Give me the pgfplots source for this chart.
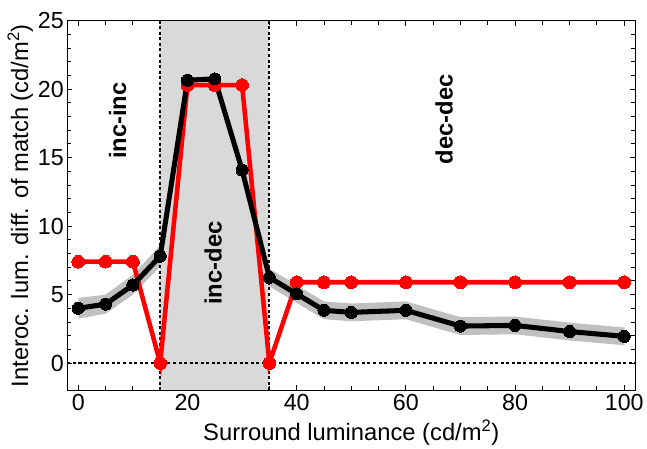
\documentclass[border=0pt]{standalone}
\usepackage{pgfplots}
\pgfplotsset{compat=1.18}
\usepackage{pgfplotstable}
\usepgfplotslibrary{fillbetween}
\usepackage{fontspec}
\setmainfont{Liberation Sans}

\definecolor{regiongray}{RGB}{217,217,217}
\definecolor{bandgray}{RGB}{192,192,192}
\definecolor{redline}{RGB}{255,0,0}

% surround luminance, interocular luminance difference
\pgfplotstableread{
x y
0 7.4
5 7.4
10 7.4
15 0
20 20.3
25 20.3
30 20.3
35 0
40 5.9
45 5.9
50 5.9
60 5.9
70 5.9
80 5.9
90 5.9
100 5.9
}\redtab

\pgfplotstableread{
x y lo hi
0 4.0 3.25 4.75
5 4.3 3.6 5.0
10 5.7 5.0 6.45
15 7.8 7.05 8.6
20 20.65 20.05 21.2
25 20.75 20.15 21.3
30 14.1 13.5 14.7
35 6.25 5.6 6.9
40 5.05 4.4 5.7
45 3.85 3.2 4.5
50 3.7 3.05 4.35
60 3.85 3.2 4.5
70 2.7 2.05 3.35
80 2.75 2.1 3.4
90 2.3 1.65 2.95
100 1.95 1.3 2.6
}\blacktab

\begin{document}
\begin{tikzpicture}
\begin{axis}[
    scale only axis,
    width=562pt, height=366pt,
    xmin=-2, xmax=102, ymin=-2, ymax=25,
    xtick={0,20,...,100}, ytick={0,5,...,25},
    minor x tick num=3, minor y tick num=4,
    tick align=inside, tick pos=both,
    major tick length=5pt, minor tick length=4pt,
    every tick/.style={black, line width=0.9pt},
    axis line style={line width=1.1pt},
    tick label style={font=\fontsize{23}{23}\selectfont},
    label style={font=\fontsize{23.5}{24}\selectfont},
    /pgf/number format/assume math mode=true,
    xlabel={Surround luminance (cd/m\textsuperscript{2})},
    ylabel={Interoc. lum. diff. of match (cd/m\textsuperscript{2})},
    xlabel style={yshift=-2pt},
    ylabel style={yshift=-2pt},
]
% inc-dec region
\fill[regiongray] (axis cs:15,-2) rectangle (axis cs:35,25);
\draw[black, line width=2pt, dash pattern=on 3pt off 2.5pt] (axis cs:15,-2) -- (axis cs:15,25);
\draw[black, line width=2pt, dash pattern=on 3pt off 2.5pt] (axis cs:35,-2) -- (axis cs:35,25);
\draw[black, line width=2pt, dash pattern=on 3pt off 2.5pt] (axis cs:-2,0) -- (axis cs:102,0);

% error band around the black series
\addplot[draw=none, name path=hi, forget plot] table[x=x, y=hi] {\blacktab};
\addplot[draw=none, name path=lo, forget plot] table[x=x, y=lo] {\blacktab};
\addplot[bandgray, draw=none] fill between[of=hi and lo];

\addplot[redline, line width=4.5pt, mark=*, mark size=6.3pt,
    mark options={fill=redline, draw=redline, line width=0pt}] table[x=x, y=y] {\redtab};
\addplot[black, line width=5pt, mark=*, mark size=6pt,
    mark options={fill=black, draw=black, line width=0pt}] table[x=x, y=y] {\blacktab};

\node[rotate=90, font=\bfseries\fontsize{23.5}{24}\selectfont] at (axis cs:7.2,17.7) {inc-inc};
\node[rotate=90, font=\bfseries\fontsize{23.5}{24}\selectfont] at (axis cs:24.7,7.3) {inc-dec};
\node[rotate=90, font=\bfseries\fontsize{23.5}{24}\selectfont] at (axis cs:67,17.8) {dec-dec};
\end{axis}
% small margins as in the reference
\path ([shift={(-4pt,9pt)}]current bounding box.north west);
\end{tikzpicture}
\end{document}
